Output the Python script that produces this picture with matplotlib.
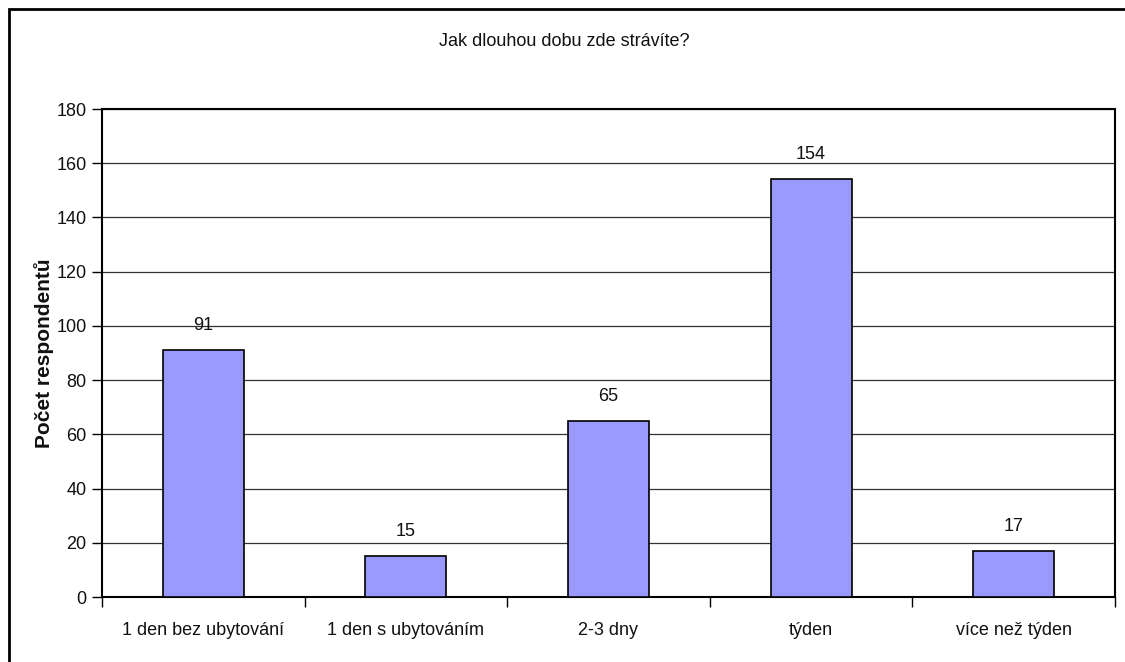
import matplotlib.pyplot as plt
from matplotlib.patches import Rectangle

categories = ['1 den bez ubytování', '1 den s ubytováním', '2-3 dny', 'týden', 'více než týden']
counts = [91, 15, 65, 154, 17]
yticks = list(range(0, 181, 20))

plt.rcParams['font.family'] = ['Liberation Sans', 'DejaVu Sans']

fig = plt.figure(figsize=(11.25, 6.62), dpi=100)
ax = fig.add_axes([102/1125, 1 - 597/662, (1115-102)/1125, (597-109)/662])

x = list(range(len(categories)))
bars = ax.bar(x, counts, width=0.4, color='#9999FF', edgecolor='black', linewidth=1.2, zorder=3)
for xi, v in zip(x, counts):
    ax.text(xi, v + 6, str(v), ha='center', va='bottom', fontsize=13, color='#111111')

ax.set_xlim(-0.5, len(categories) - 0.5)
ax.set_ylim(0, 180)
ax.set_yticks(yticks)
ax.tick_params(axis='y', labelsize=13, length=7, width=1, direction='out', pad=4, labelcolor='#111111')
ax.grid(axis='y', color='#333333', linewidth=0.9, zorder=0)

# category labels centred, tick marks on category boundaries
ax.set_xticks(x)
ax.set_xticklabels(categories, fontsize=13, color='#111111')
ax.tick_params(axis='x', length=0, pad=18)
ax.set_xticks([i - 0.5 for i in range(len(categories) + 1)], minor=True)
ax.tick_params(axis='x', which='minor', length=7, width=1, direction='out')

for side in ['left', 'bottom', 'top', 'right']:
    ax.spines[side].set_linewidth(1.5)
    ax.spines[side].set_color('black')

ax.set_ylabel('Počet respondentů', fontsize=15, fontweight='bold', labelpad=2, color='#111111')
fig.text(564/1125, 1 - 42/662, 'Jak dlouhou dobu zde strávíte?', ha='center', va='center',
         fontsize=13, color='#111111')

# outer chart frame
fig.patches.append(Rectangle((9/1125, -0.05), 1.1, 1 - 9/662 + 0.05, transform=fig.transFigure,
                             fill=False, edgecolor='black', linewidth=2))

fig.savefig('out.png', dpi=100)
